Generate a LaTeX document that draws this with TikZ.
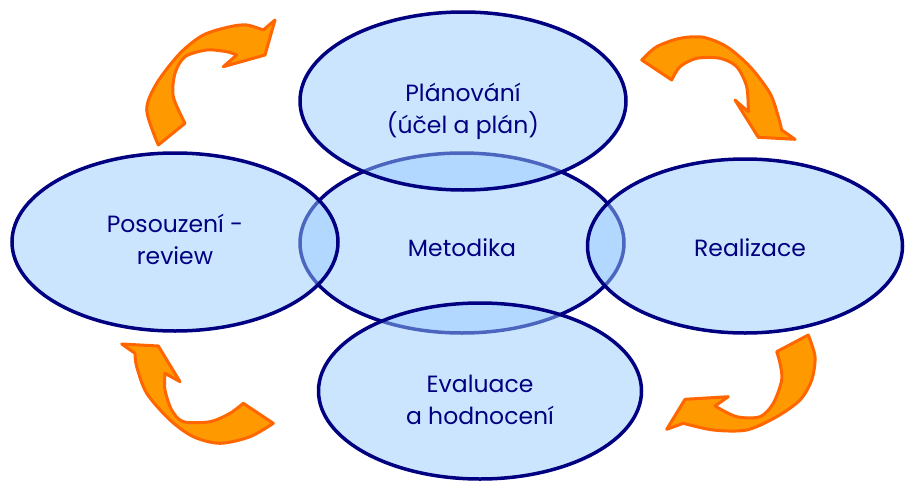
\documentclass[tikz,border=0pt]{standalone}
\usepackage{fontspec}
\setmainfont{Poppins}
\usetikzlibrary{shapes.geometric}
\definecolor{navy}{RGB}{0,0,128}
\definecolor{lightfill}{RGB}{204,229,255}
\definecolor{midfill}{RGB}{153,204,255}
\definecolor{orfill}{RGB}{255,153,0}
\definecolor{orline}{RGB}{255,102,0}
\tikzset{
  centerell/.style={ellipse, draw=navy, fill=lightfill, line width=3.5pt, inner sep=0pt},
  outerell/.style={ellipse, draw=navy, fill=midfill, fill opacity=0.5, line width=3.5pt, inner sep=0pt},
  lbl/.style={text=navy, align=center, font=\fontsize{23.5}{32}\selectfont},
  bigarrow/.style={fill=orfill, draw=orline, line width=3pt, line join=round}
}
\begin{document}
\begin{tikzpicture}[x=1pt,y=-1pt]
\useasboundingbox (0,0) rectangle (905,482);
% centre ellipse
\node[centerell, minimum width=324pt, minimum height=180pt] (cen) at (462,243) {};
% outer ellipses
\node[outerell, minimum width=326pt, minimum height=178pt] (top) at (463,101) {};
\node[outerell, minimum width=326pt, minimum height=178pt] (lef) at (175,242) {};
\node[outerell, minimum width=315pt, minimum height=174pt] (rig) at (745,246) {};
\node[outerell, minimum width=323pt, minimum height=176pt] (bot) at (480,391) {};
% labels
\node[lbl] (tcen) at (462,248) {Metodika};
\node[lbl] (ttop) at (463,111) {Plánování\\(účel a plán)};
\node[lbl] (tlef) at (175,239) {Posouzení -\\review};
\node[lbl] (trig) at (750,248) {Realizace};
\node[lbl] (tbot) at (480,400) {Evaluace\\a hodnocení};
% arrows
\draw[bigarrow] plot[smooth] coordinates {(158.3,145) (146.7,110) (156.7,83.3) (180,53.3) (203.3,35) (230,26.7) (246.7,25) (263.3,30)}
  -- (275,20) -- (265,55) -- (223.3,66.7) -- (236.7,55)
  -- plot[smooth] coordinates {(236.7,55) (226.7,51.7) (206.7,50) (185,56.7) (175,73.3) (173.3,96.7) (185,123.3)} -- cycle;
\draw[bigarrow] plot[smooth] coordinates {(641.7,60) (656.7,46.7) (680,38.3) (703.3,37.3) (726.7,46.7) (750,66.7) (770,93.3) (778.3,116.7) (781.7,130)}
  -- (795,139.3) -- (758.3,137.3) -- (735,100) -- (748.3,111.7)
  -- plot[smooth] coordinates {(748.3,111.7) (746.7,86.7) (736.7,66.7) (720,58.3) (696.7,58.3) (680,66.7) (671.7,80)} -- cycle;
\draw[bigarrow] plot[smooth] coordinates {(273.3,423.3) (250,436.7) (220,443.3) (193.3,436.7) (170,420) (146.7,393.3) (136.7,366.7) (135,353.3)}
  -- (121.7,344) -- (158.3,346) -- (180,381.7) -- (165,373.3)
  -- plot[smooth] coordinates {(165,373.3) (165,390) (171.7,410) (183.3,421.7) (210,421.7) (230,413.3) (243.3,403.3)} -- cycle;
\draw[bigarrow] plot[smooth] coordinates {(808.3,335) (815,356.7) (811.7,380) (800,400) (776.7,416.7) (746.7,430) (713.3,430) (683.3,423.3)}
  -- (666.7,429.3) -- (685,399.3) -- (728.3,396.7) -- (715,406)
  -- plot[smooth] coordinates {(715,406) (736.7,416.7) (760,416.7) (773.3,403.3) (781.7,380) (780,363.3) (776.7,351.7)} -- cycle;
\end{tikzpicture}
\end{document}
